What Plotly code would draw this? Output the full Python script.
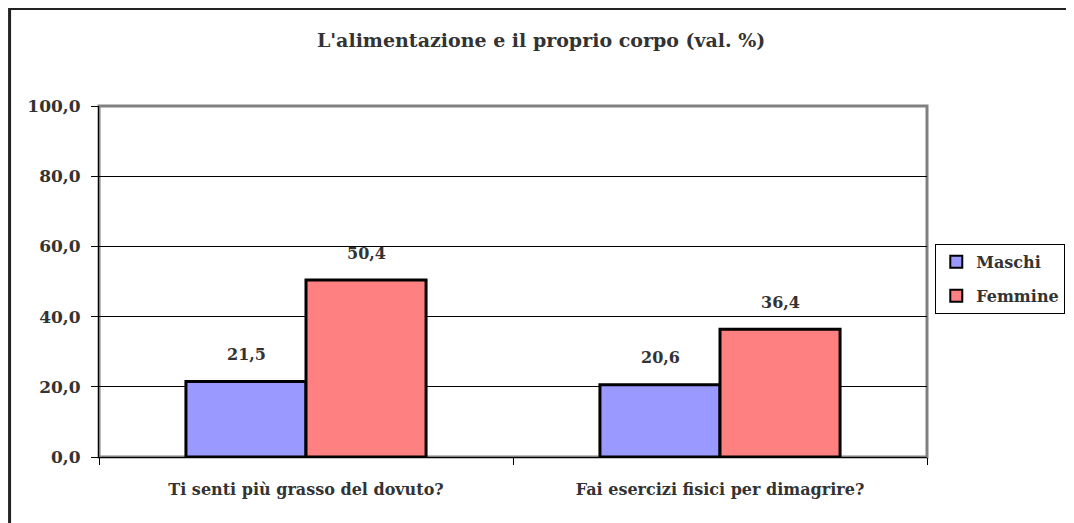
import plotly.graph_objects as go

categorie = ["Ti senti più grasso del dovuto?", "Fai esercizi fisici per dimagrire?"]
maschi = [21.5, 20.6]
femmine = [50.4, 36.4]
serie = ["Maschi", "Femmine"]
colori = ["#9999FF", "#FF8080"]
y_ticks = [0, 20, 40, 60, 80, 100]

FONT = "DejaVu Serif"
TXT = "#333333"

fig = go.Figure()
for nome, valori, col in zip(serie, [maschi, femmine], colori):
    fig.add_trace(go.Bar(
        name=nome, x=categorie, y=valori, legendgroup=nome,
        marker=dict(color=col, line=dict(color="black", width=3)),
    ))

# etichette dati sopra le barre (stile Excel, con distacco)
for i, cat in enumerate(categorie):
    for valori, shift in ((maschi, -60), (femmine, 60)):
        fig.add_annotation(
            x=cat, y=valori[i], xshift=shift, yshift=27,
            text=f"{valori[i]:.1f}".replace(".", ","), showarrow=False,
            font=dict(family=FONT, size=16, color=TXT, weight="bold"),
        )

# la pagina ha 8px di margine nel body: figura ridotta per stare nella finestra
fig.update_layout(
    width=1066, height=515,
    margin=dict(l=91, r=147, t=98, b=66, autoexpand=False),
    paper_bgcolor="white", plot_bgcolor="white",
    separators=",.",
    barmode="group", bargap=0.42, bargroupgap=0,
    title=dict(
        text="L'alimentazione e il proprio corpo (val. %)",
        x=0.534, xref="paper", y=1 - 32 / 515, yref="container",
        xanchor="center", yanchor="middle",
        font=dict(family=FONT, size=19, color=TXT, weight="bold"),
    ),
    legend=dict(
        x=1.01, y=0.607, xanchor="left", yanchor="top",
        bgcolor="white", bordercolor="black", borderwidth=1,
        font=dict(family=FONT, size=16, color=TXT, weight="bold"),
        itemsizing="constant", tracegroupgap=10, itemwidth=30,
    ),
    xaxis=dict(
        showline=True, linecolor="black", linewidth=1,
        ticks="outside", tickson="boundaries", ticklen=7, tickcolor="black",
        ticklabelstandoff=18,
        tickfont=dict(family=FONT, size=16, color=TXT, weight="bold"),
        showgrid=False,
    ),
    yaxis=dict(
        range=[0, 100], tickvals=y_ticks, tickformat=".1f",
        showline=True, linecolor="black", linewidth=1,
        ticks="outside", ticklen=7, tickcolor="black",
        ticklabelstandoff=7,
        gridcolor="black", gridwidth=1, zeroline=False,
        tickfont=dict(family=FONT, size=17, color=TXT, weight="bold"),
    ),
    shapes=[
        # bordo area del grafico (grigio)
        dict(type="rect", xref="paper", yref="paper", x0=0, x1=1, y0=0, y1=1,
             line=dict(color="#808080", width=3), layer="below"),
        # cornice esterna del grafico
        dict(type="rect", xref="paper", yref="paper",
             x0=-0.108, x1=1.3, y0=-0.4, y1=1.2778,
             line=dict(color="#222222", width=3)),
    ],
)

fig.write_html("out.html")
